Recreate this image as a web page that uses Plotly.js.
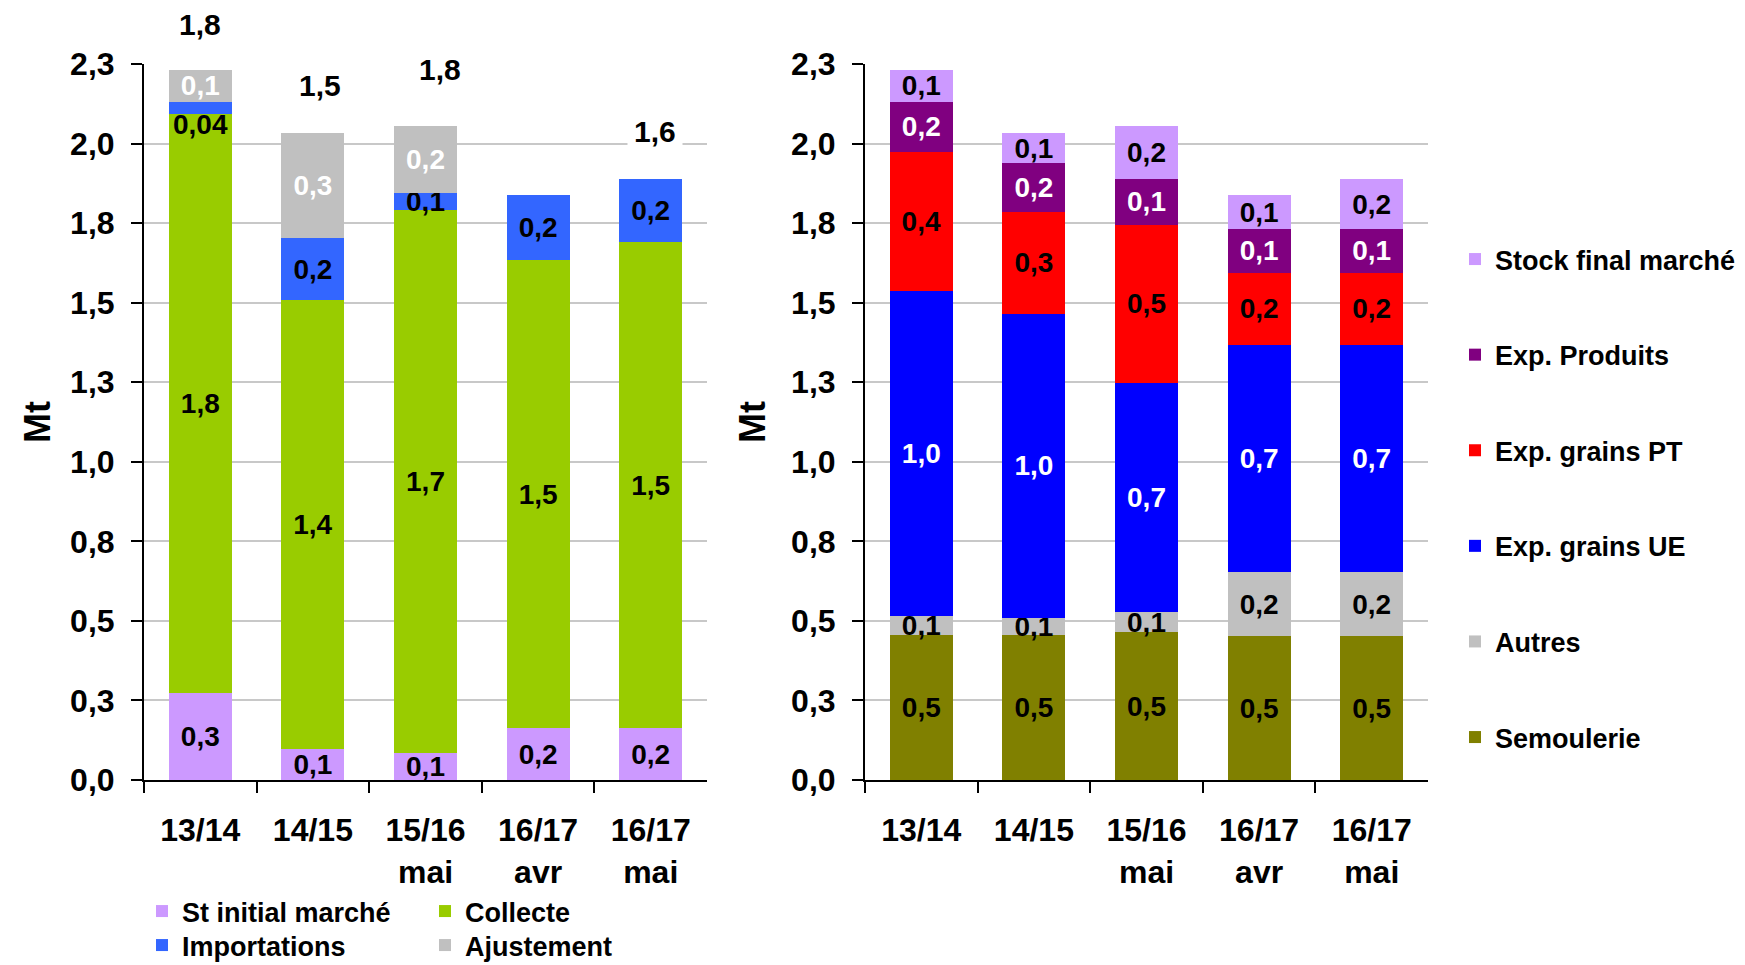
<!DOCTYPE html>
<html>
<head>
<meta charset="utf-8">
<script src="https://cdn.plot.ly/plotly-3.0.1.min.js"></script>
<style>
html, body { margin: 0; padding: 0; background: #ffffff; }
#chart { width: 1745px; height: 965px; }
</style>
</head>
<body>
<div id="chart"></div>
<script>
// ---------- Data ----------
const categories = ['13/14', '14/15', '15/16<br>mai', '16/17<br>avr', '16/17<br>mai'];

// Left chart (ressources), Mt
const stInitialMarche = [0.273, 0.096, 0.085, 0.163, 0.163];
const collecte        = [1.821, 1.412, 1.706, 1.471, 1.528];
const importations    = [0.037, 0.195, 0.054, 0.204, 0.198];
const ajustement      = [0.100, 0.330, 0.210, null, null];
const totalLabels     = [1.8, 1.5, 1.8, null, 1.6];

// Right chart (emplois), Mt
const semoulerie      = [0.456, 0.456, 0.465, 0.452, 0.452];
const autres          = [0.059, 0.054, 0.063, 0.202, 0.202];
const expGrainsUE     = [1.022, 0.955, 0.720, 0.713, 0.713];
const expGrainsPT     = [0.437, 0.321, 0.496, 0.227, 0.227];
const expProduits     = [0.157, 0.153, 0.145, 0.137, 0.137];
const stockFinal      = [0.100, 0.094, 0.166, 0.107, 0.158];

// ---------- Presentation (positions / styles) ----------
const FONT = '"Liberation Sans", Arial, Helvetica, sans-serif';
const W = 1745, H = 965;
const totalXShift = [0, 7, 14, 0, 4];     // px nudges of the total labels
const totalYShift = [22, 24, 33, 24, 24];
const THIN = 0.05;                          // segments thinner than this get their label below

function fmt(v) {
  if (v == null) return '';
  const s = v < THIN ? v.toFixed(2) : v.toFixed(1);
  return s.replace('.', ',');
}

function bar(name, values, color, textColor, xa, ya, legend, rank) {
  return {
    type: 'bar', name: name, x: categories, y: values,
    xaxis: xa, yaxis: ya,
    marker: { color: color, line: { width: 0 } },
    text: values.map(function (v) { return (v != null && v < THIN) ? '' : fmt(v); }),
    textposition: 'inside', insidetextanchor: 'middle',
    constraintext: 'none', textangle: 0,
    textfont: { family: FONT, size: 28, color: textColor, weight: 'bold' },
    legend: legend, legendgroup: name, legendrank: rank,
    hoverinfo: 'skip'
  };
}

const traces = [
  bar('St initial marché', stInitialMarche, '#CC99FF', '#000000', 'x', 'y', 'legend', 1),
  bar('Collecte', collecte, '#99CC00', '#000000', 'x', 'y', 'legend', 2),
  bar('Importations', importations, '#3366FF', '#000000', 'x', 'y', 'legend2', 3),
  bar('Ajustement', ajustement, '#C0C0C0', '#FFFFFF', 'x', 'y', 'legend2', 4),

  bar('Semoulerie', semoulerie, '#808000', '#000000', 'x2', 'y2', 'legend3', 6),
  bar('Autres', autres, '#C0C0C0', '#000000', 'x2', 'y2', 'legend3', 5),
  bar('Exp. grains UE', expGrainsUE, '#0000FF', '#FFFFFF', 'x2', 'y2', 'legend3', 4),
  bar('Exp. grains PT', expGrainsPT, '#FF0000', '#000000', 'x2', 'y2', 'legend3', 3),
  bar('Exp. Produits', expProduits, '#800080', '#FFFFFF', 'x2', 'y2', 'legend3', 2),
  bar('Stock final marché', stockFinal, '#CC99FF', '#000000', 'x2', 'y2', 'legend3', 1)
];

const annotations = [];

// Labels of thin import segments, placed just under the segment
categories.forEach(function (c, i) {
  const v = importations[i];
  if (v == null || v >= THIN) return;
  annotations.push({
    xref: 'x', yref: 'y', x: c, y: stInitialMarche[i] + collecte[i],
    xanchor: 'center', yanchor: 'top', yshift: 7,
    text: fmt(v), showarrow: false,
    font: { family: FONT, size: 28, color: '#000000', weight: 'bold' }
  });
});

// Total labels above the left bars
categories.forEach(function (c, i) {
  if (totalLabels[i] == null) return;
  const top = stInitialMarche[i] + collecte[i] + importations[i] + (ajustement[i] || 0);
  annotations.push({
    xref: 'x', yref: 'y', x: c, y: top,
    xanchor: 'center', yanchor: 'bottom',
    xshift: totalXShift[i], yshift: totalYShift[i],
    text: fmt(totalLabels[i]), showarrow: false,
    bgcolor: '#FFFFFF', borderpad: 6,
    font: { family: FONT, size: 30, color: '#000000', weight: 'bold' }
  });
});

function xAxis(domain, anchor) {
  return {
    domain: domain, anchor: anchor, type: 'category',
    tickson: 'boundaries', ticks: 'outside', ticklen: 11, tickwidth: 2, tickcolor: '#000000',
    showline: true, linecolor: '#000000', linewidth: 2,
    showgrid: false, zeroline: false,
    tickfont: { family: FONT, size: 32, color: '#000000', weight: 'bold' },
    ticklabelstandoff: 21,
    fixedrange: true
  };
}
function yAxis(domain, anchor, standoff) {
  return {
    domain: domain, anchor: anchor,
    range: [0, 2.25], tick0: 0, dtick: 0.25, tickformat: '.1f',
    ticks: 'outside', ticklen: 11, tickwidth: 2, tickcolor: '#000000',
    showline: true, linecolor: '#000000', linewidth: 2,
    showgrid: true, gridcolor: '#C8C8C8', gridwidth: 2, zeroline: false,
    tickfont: { family: FONT, size: 32, color: '#000000', weight: 'bold' },
    ticklabelstandoff: 10,
    title: { text: 'Mt', font: { family: FONT, size: 36, color: '#000000', weight: 'bold' }, standoff: standoff },
    fixedrange: true
  };
}

const yDomain = [1 - 780 / H, 1 - 64 / H];
const legendFont = { family: FONT, size: 27, color: '#000000', weight: 'bold' };

const layout = {
  width: W, height: H,
  margin: { l: 0, r: 0, t: 0, b: 0, autoexpand: false },
  paper_bgcolor: '#FFFFFF', plot_bgcolor: '#FFFFFF',
  font: { family: FONT, color: '#000000' },
  separators: ', ',
  barmode: 'stack', bargap: 0.44,
  showlegend: true,
  xaxis: xAxis([144 / W, 707 / W], 'y'),
  yaxis: yAxis(yDomain, 'x', 9),
  xaxis2: xAxis([865 / W, 1428 / W], 'y2'),
  yaxis2: yAxis(yDomain, 'x2', 15),
  legend: {
    orientation: 'h', x: 142 / W, xanchor: 'left', y: 1 - 887 / H, yanchor: 'top',
    entrywidth: 238, entrywidthmode: 'pixels', traceorder: 'normal',
    bgcolor: 'rgba(0,0,0,0)', borderwidth: 0, font: legendFont
  },
  legend2: {
    orientation: 'h', x: 142 / W, xanchor: 'left', y: 1 - 921 / H, yanchor: 'top',
    entrywidth: 238, entrywidthmode: 'pixels', traceorder: 'normal',
    bgcolor: 'rgba(0,0,0,0)', borderwidth: 0, font: legendFont
  },
  legend3: {
    orientation: 'v', x: 1455 / W, xanchor: 'left', y: 1 - 235 / H, yanchor: 'top',
    traceorder: 'grouped', tracegroupgap: 57.5,
    bgcolor: 'rgba(0,0,0,0)', borderwidth: 0, font: legendFont
  },
  annotations: annotations
};

Plotly.newPlot('chart', traces, layout, { displayModeBar: false, staticPlot: true });
</script>
</body>
</html>
